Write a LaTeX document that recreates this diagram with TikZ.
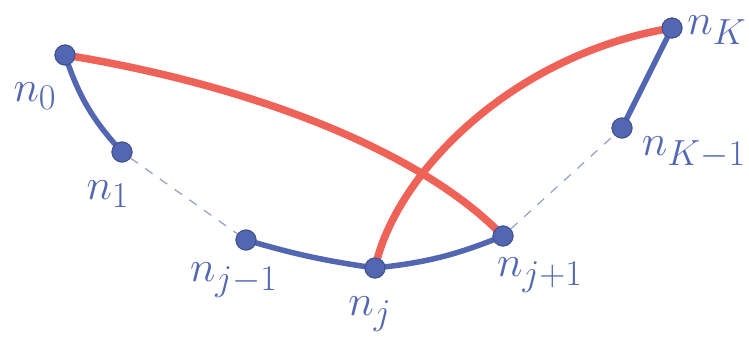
\documentclass[tikz,border=0pt]{standalone}
\usepackage{amsmath,amssymb}
\usepackage{graphicx}
\usepackage{tikz}
\definecolor{pathblue}{RGB}{82,102,178}
\definecolor{pathred}{RGB}{238,98,88}
\definecolor{gapblue}{RGB}{150,158,196}
\newcommand{\vlab}[1]{\scalebox{1.75}{$#1$}}

\begin{document}
\begin{tikzpicture}[x=1pt,y=-1pt,
  vert/.style={circle,fill=pathblue,draw=pathblue!80!black,line width=1pt,inner sep=0pt,minimum size=20pt},
  lbl/.style={text=pathblue,font=\Huge},
  edge/.style={pathblue,line width=5.5pt,line cap=round},
  gap/.style={gapblue,line width=1.2pt,dash pattern=on 9pt off 9pt},
  jump/.style={pathred,line width=7.5pt,line cap=round}]
\useasboundingbox (0,0) rectangle (749,353);
\node[vert] (n0) at (65,55) {};
\node[vert] (n1) at (122,152) {};
\node[vert] (nj1) at (246,240) {};
\node[vert] (nj) at (375,268) {};
\node[vert] (nj2) at (503,236) {};
\node[vert] (nk1) at (622,128) {};
\node[vert] (nk) at (672,28) {};
\draw[gap] (n1) -- (nj1);
\draw[gap] (nj2) -- (nk1);
\draw[edge] (n0.center) to[bend right=12] (n1.center);
\draw[edge] (nj1.center) to[bend right=4] (nj.center);
\draw[edge] (nj.center) to[bend right=8] (nj2.center);
\draw[edge] (nk1.center) -- (nk.center);
\draw[jump] (n0.center) .. controls (250,85) and (420,150) .. (nj2.center);
\draw[jump] (nj.center) .. controls (395,175) and (510,55) .. (nk.center);
% the dots sit on top of the strokes
\foreach \v in {n0,n1,nj1,nj,nj2,nk1,nk}
  \node[vert] at (\v) {};
\node[lbl] (l0) at (35,96) {\vlab{n_0}};
\node[lbl] (l1) at (108,194) {\vlab{n_1}};
\node[lbl] (lj1) at (234,280) {\vlab{n_{j-1}}};
\node[lbl] (lj) at (370,314) {\vlab{n_j}};
\node[lbl] (lj2) at (540,275) {\vlab{n_{j+1}}};
\node[lbl] (lk1) at (694,153) {\vlab{n_{K-1}}};
\node[lbl] (lk) at (717,30) {\vlab{n_K}};
\end{tikzpicture}
\end{document}
